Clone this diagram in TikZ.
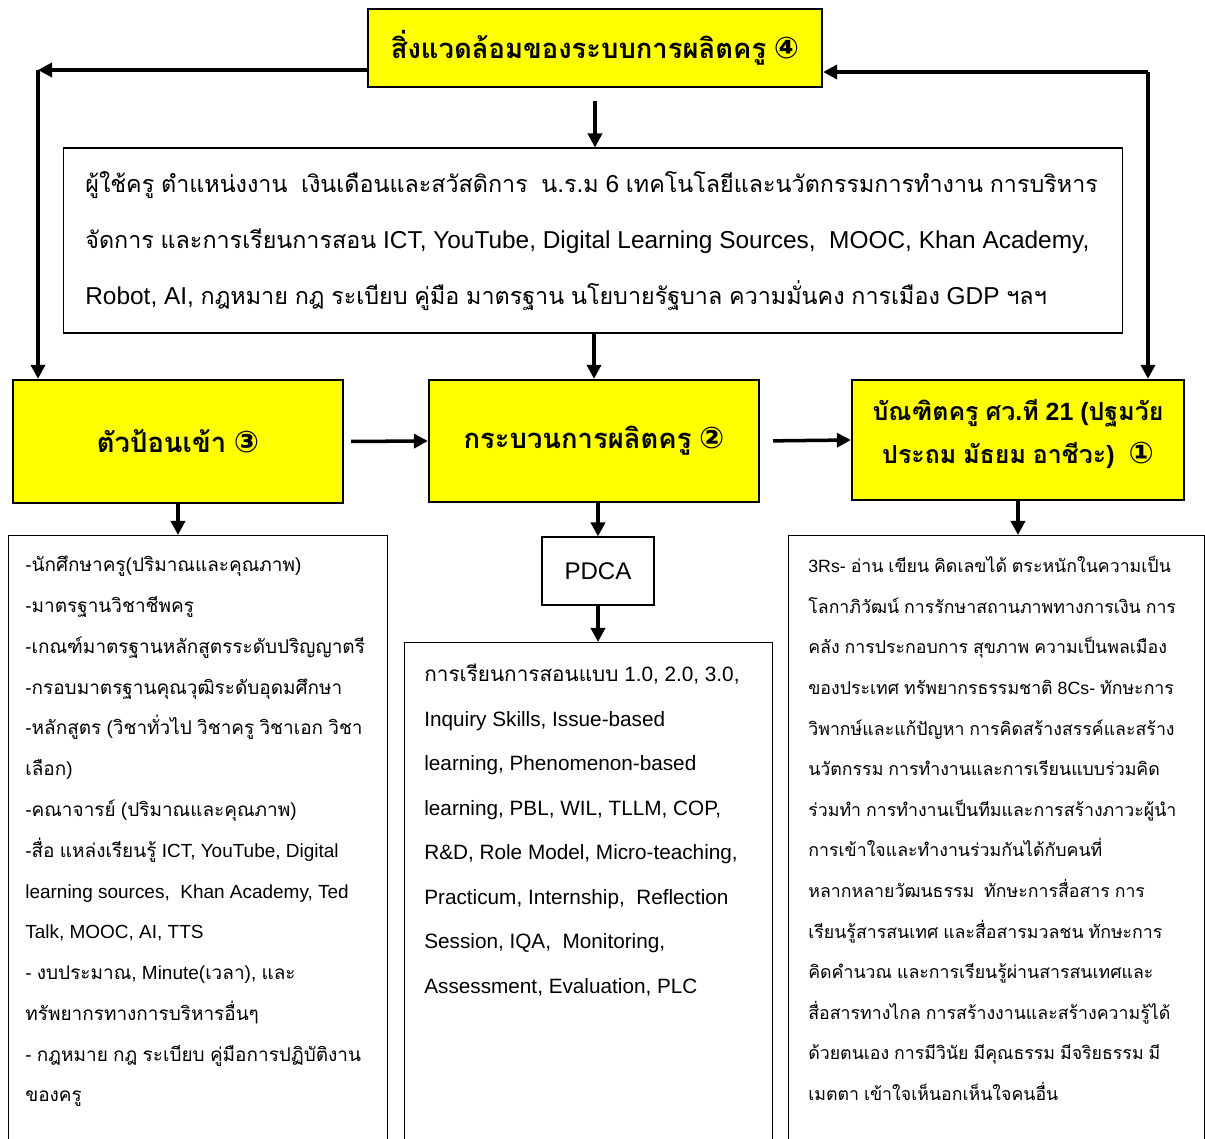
\documentclass[tikz,border=0pt]{standalone}
\usepackage{fontspec}
\usetikzlibrary{arrows.meta}
\setmainfont{Liberation Sans}
\newfontfamily\latinfont{Liberation Sans}
\newfontfamily\thaifont[Script=Thai]{Loma}
\newfontfamily\thainarrow[Script=Thai,Scale=0.955]{Loma}
\newfontfamily\circfont{DejaVu Sans}
\newcommand{\circno}[1]{{\circfont\fontsize{17}{17}\selectfont #1}}
\definecolor{boxyellow}{RGB}{255,255,0}

% Thai runs set in Loma, everything else in Liberation Sans
\chardef\thaicls=11
\newcount\thaicnt
\thaicnt="0E00
\loop
  \XeTeXcharclass\thaicnt=\thaicls
  \ifnum\thaicnt<"0E7F \advance\thaicnt by 1
\repeat
\XeTeXinterchartoks 0 \thaicls = {\thaifont}
\XeTeXinterchartoks 4095 \thaicls = {\thaifont}
\XeTeXinterchartoks \thaicls 0 = {\latinfont}
\XeTeXinterchartoks \thaicls 4095 = {\latinfont}
\XeTeXinterchartokenstate=1

\begin{document}
\begin{tikzpicture}[x=0.02cm, y=-0.02cm,
        ybox/.style={rectangle, draw, line width=1.3pt, fill=boxyellow, inner sep=0pt, align=center, font=\bfseries\fontsize{15.6}{24}\selectfont},
        tbox/.style={rectangle, draw, line width=0.6pt, inner sep=0pt},
        txt/.style={anchor=north west, inner sep=0pt, align=left},
        arrow/.style={-{Triangle[length=8pt,width=8pt]}, line width=2pt}]

        \clip (0,0) rectangle (1205,1139);

        % Environment
        \node[ybox, minimum width=9.08cm, minimum height=1.56cm] (env) at (595,48) {สิ่งแวดล้อมของระบบการผลิตครู \circno{④}};
        \node[tbox, minimum width=21.2cm, minimum height=3.7cm] (fac) at (593,240.5) {};
        \node[txt, anchor=west, font=\let\thaifont\thainarrow\fontsize{13.9}{31.9}\selectfont] (factxt) at (85,241)
            {ผู้ใช้ครู ตำแหน่งงาน\ \ เงินเดือนและสวัสดิการ\ \ น.ร.ม 6 เทคโนโลยีและนวัตกรรมการทำงาน การบริหาร\\
             จัดการ และการเรียนการสอน ICT, YouTube, Digital Learning Sources,\ \ MOOC, Khan Academy,\\
             Robot, AI, กฎหมาย กฎ ระเบียบ คู่มือ มาตรฐาน นโยบายรัฐบาล ความมั่นคง การเมือง GDP ฯลฯ};

        % Input, process, output
        \node[ybox, minimum width=6.6cm, minimum height=2.46cm] (inp) at (178,441.5) {ตัวป้อนเข้า \circno{③}};
        \node[ybox, minimum width=6.6cm, minimum height=2.44cm] (proc) at (594,441) {กระบวนการผลิตครู \circno{②}};
        \node[ybox, minimum width=6.64cm, minimum height=2.4cm] (grad) at (1018,440) {};
        \node[align=center, inner sep=0pt, font=\bfseries\fontsize{14.2}{24}\selectfont] (gradtxt) at (1018,434)
            {บัณฑิตครู ศว.ที 21 (ปฐมวัย\\ประถม มัธยม อาชีวะ)\ \ \circno{①}};

        % Details
        \node[tbox, anchor=north west, minimum width=7.58cm, minimum height=12.5cm] (inbox) at (8,535) {};
        \node[txt, font=\fontsize{10.8}{23.2}\selectfont] (intxt) at (25,556)
            {-นักศึกษาครู(ปริมาณและคุณภาพ)\\
             -มาตรฐานวิชาชีพครู\\
             -เกณฑ์มาตรฐานหลักสูตรระดับปริญญาตรี\\
             -กรอบมาตรฐานคุณวุฒิระดับอุดมศึกษา\\
             -หลักสูตร (วิชาทั่วไป วิชาครู วิชาเอก วิชา\\
             เลือก)\\
             -คณาจารย์ (ปริมาณและคุณภาพ)\\
             -สื่อ แหล่งเรียนรู้ ICT, YouTube, Digital\\
             learning sources,\ \ Khan Academy, Ted\\
             Talk, MOOC, AI, TTS\\
             - งบประมาณ, Minute(เวลา), และ\\
             ทรัพยากรทางการบริหารอื่นๆ\\
             - กฎหมาย กฎ ระเบียบ คู่มือการปฏิบัติงาน\\
             ของครู};

        \node[tbox, minimum width=2.24cm, minimum height=1.36cm, font=\fontsize{13.7}{16}\selectfont] (pdca) at (598,571) {PDCA};
        \node[tbox, anchor=north west, minimum width=7.36cm, minimum height=10.5cm] (techbox) at (404,642) {};
        \node[txt, font=\fontsize{11.8}{25.3}\selectfont] (techtxt) at (424,664)
            {การเรียนการสอนแบบ 1.0, 2.0, 3.0,\\
             Inquiry Skills, Issue-based\\
             learning, Phenomenon-based\\
             learning, PBL, WIL, TLLM, COP,\\
             R\&D, Role Model, Micro-teaching,\\
             Practicum, Internship,\ \ Reflection\\
             Session, IQA,\ \ Monitoring,\\
             Assessment, Evaluation, PLC};

        \node[tbox, anchor=north west, minimum width=8.32cm, minimum height=12.5cm] (outbox) at (788,535) {};
        \node[txt, font=\fontsize{10.1}{23.1}\selectfont] (outtxt) at (808,556)
            {3Rs- อ่าน เขียน คิดเลขได้ ตระหนักในความเป็น\\
             โลกาภิวัฒน์ การรักษาสถานภาพทางการเงิน การ\\
             คลัง การประกอบการ สุขภาพ ความเป็นพลเมือง\\
             ของประเทศ ทรัพยากรธรรมชาติ 8Cs- ทักษะการ\\
             วิพากษ์และแก้ปัญหา การคิดสร้างสรรค์และสร้าง\\
             นวัตกรรม การทำงานและการเรียนแบบร่วมคิด\\
             ร่วมทำ การทำงานเป็นทีมและการสร้างภาวะผู้นำ\\
             การเข้าใจและทำงานร่วมกันได้กับคนที่\\
             หลากหลายวัฒนธรรม\ \ ทักษะการสื่อสาร การ\\
             เรียนรู้สารสนเทศ และสื่อสารมวลชน ทักษะการ\\
             คิดคำนวณ และการเรียนรู้ผ่านสารสนเทศและ\\
             สื่อสารทางไกล การสร้างงานและสร้างความรู้ได้\\
             ด้วยตนเอง การมีวินัย มีคุณธรรม มีจริยธรรม มี\\
             เมตตา เข้าใจเห็นอกเห็นใจคนอื่น};

        % Corners of the feedback lines
        \coordinate (lc) at (38,70);
        \coordinate (rc) at (1148,72);

        % Arrows
        \draw[arrow] (env.west |- lc) -- (lc);
        \draw[arrow] (lc) -- (lc |- inp.north);
        \draw[arrow] (rc) -- (env.east |- rc);
        \draw[arrow] (rc) -- (rc |- grad.north);
        \draw[arrow, shorten <=0.26cm] (env.south) -- (env.south |- fac.north);
        \draw[arrow] (fac.south -| proc.north) -- (proc.north);

        \draw[arrow, shorten <=0.14cm] (inp.east) -- (proc.west);
        \draw[arrow, shorten <=0.26cm] (proc.east) -- (grad.west);

        \draw[arrow] (inp.south) -- (inbox.north -| inp.south);
        \draw[arrow] (proc.south -| pdca.north) -- (pdca.north);
        \draw[arrow] (pdca.south) -- (techbox.north -| pdca.south);
        \draw[arrow] (grad.south) -- (outbox.north -| grad.south);

    \end{tikzpicture}
\end{document}
